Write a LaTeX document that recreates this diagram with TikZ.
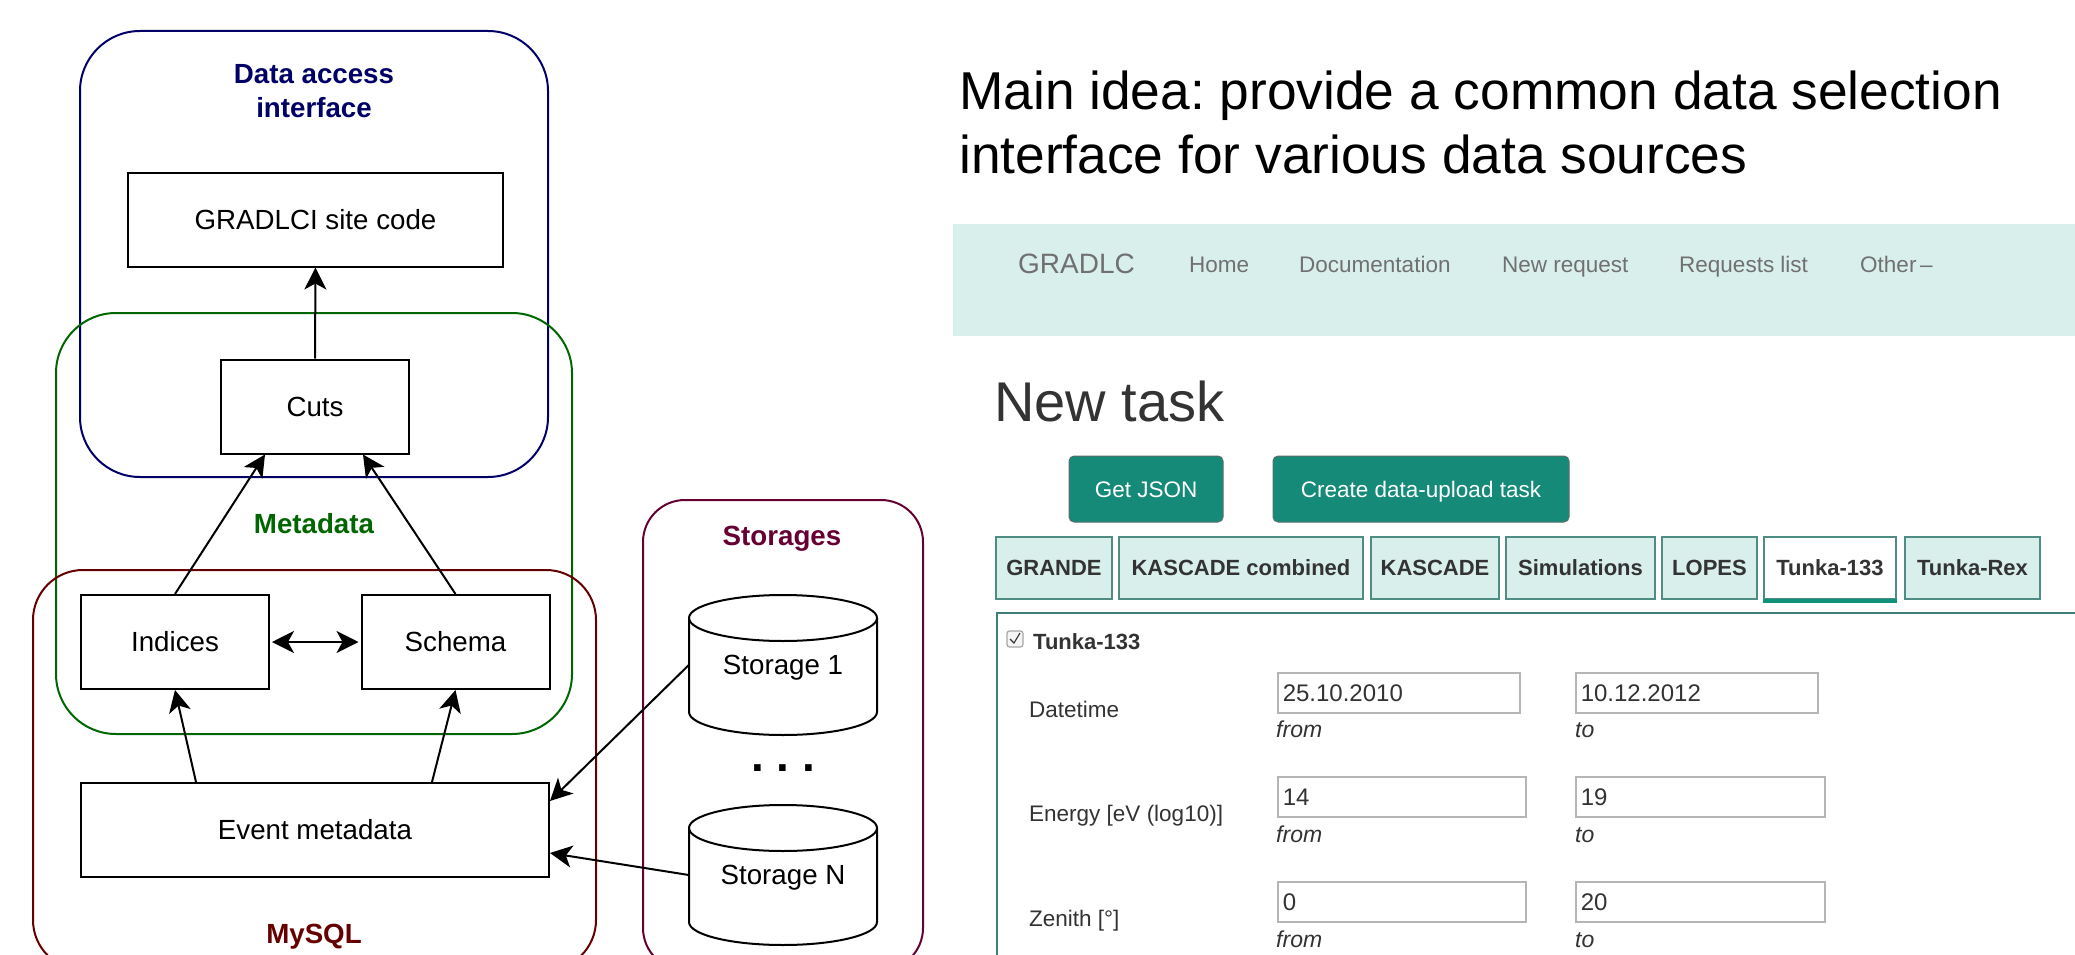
\documentclass[tikz,border=0pt]{standalone}
\usepackage{fontspec}
\setmainfont{Liberation Sans}
\usetikzlibrary{arrows.meta}
\frenchspacing
\definecolor{navyc}{HTML}{000066}
\definecolor{greenc}{HTML}{006600}
\definecolor{mysqlc}{HTML}{660000}
\definecolor{storc}{HTML}{660033}
\definecolor{tealbtn}{HTML}{168A78}
\definecolor{btnedge}{HTML}{5A6E6A}
\definecolor{navbg}{HTML}{D9EFEB}
\definecolor{tabborder}{HTML}{4F8C84}
\definecolor{tabline}{HTML}{119179}
\definecolor{panelc}{HTML}{3E7F77}
\definecolor{navtext}{HTML}{707070}
\definecolor{darktext}{HTML}{333333}
\definecolor{inputc}{HTML}{B5B5B5}
\newcommand{\FSbox}{\fontsize{27.7pt}{34.5pt}\selectfont}
\newcommand{\FSweb}{\fontsize{22.5pt}{27pt}\selectfont}
\tikzset{
  box/.style={draw, line width=2pt, fill=white, minimum width=188pt, minimum height=94pt,
    inner sep=0pt, font=\FSbox, text height=19.8pt, text depth=0pt},
  grp/.style={line width=2pt, rounded corners=#1, inner sep=0pt},
  grplabel/.style={font=\FSbox\bfseries, inner sep=0pt, anchor=base},
  arr/.style={line width=2pt, -{Stealth[length=22pt, width=22pt, inset=6pt]}},
  darr/.style={line width=2pt, {Stealth[length=22pt, width=22pt, inset=6pt]}-{Stealth[length=22pt, width=22pt, inset=6pt]}, shorten <=2pt, shorten >=2pt},
  cyl/.style={line width=2pt},
  navitem/.style={font=\FSweb, text=navtext, inner sep=0pt, anchor=base west},
  btn/.style={fill=tealbtn, draw=btnedge, line width=1pt, rounded corners=5pt, minimum height=66pt,
    text=white, font=\FSweb, inner sep=0pt, text height=16pt, text depth=0pt},
  tabbox/.style={draw=tabborder, fill=navbg, line width=1.5pt, minimum height=62pt, inner sep=0pt,
    font=\fontsize{22pt}{26pt}\selectfont\bfseries, text=darktext, text height=15.8pt, text depth=0pt},
  flabel/.style={font=\FSweb, text=darktext, inner sep=0pt, anchor=base west},
  inp/.style={draw=inputc, line width=1.5pt, fill=white, inner xsep=5pt, inner ysep=0pt,
    minimum height=40pt, align=left, anchor=north west, text height=17pt, text depth=0pt,
    font=\fontsize{24pt}{28pt}\selectfont, text=darktext},
  hint/.style={font=\fontsize{23pt}{27pt}\selectfont\itshape, text=darktext, inner sep=0pt, anchor=base west}
}
\begin{document}
\begin{tikzpicture}[x=1pt, y=-1pt]
\useasboundingbox (0,0) rectangle (2075,955);
\fill[white] (0,0) rectangle (2075,955);
\clip (0,0) rectangle (2075,955);

% ---------- group containers ----------
\node[grp=60pt, draw=navyc, minimum width=468pt, minimum height=446pt] (dai) at (314,254) {};
\node[grp=60pt, draw=greenc, minimum width=516pt, minimum height=421pt] (meta) at (314,523.5) {};
\node[grp=50pt, draw=mysqlc, minimum width=563pt, minimum height=400pt] (mysql) at (314.5,770) {};
\node[grp=42pt, draw=storc, minimum width=280pt, minimum height=470pt] (stor) at (783,735) {};

\node[grplabel, text=navyc, align=center, anchor=north] (daiT) at (314,64) {Data access\\interface};
\node[grplabel, text=greenc] (metaT) at (314,533) {Metadata};
\node[grplabel, text=mysqlc] (mysqlT) at (314,943) {MySQL};
\node[grplabel, text=storc] (storT) at (782,545) {Storages};

% ---------- boxes ----------
\node[box, minimum width=375pt] (grad) at (315.5,219.5) {GRADLCI site code};
\node[box] (cuts) at (315,406.5) {Cuts};
\node[box] (ind) at (175,642) {Indices};
\node[box] (sch) at (455.5,642) {Schema};
\node[box, minimum width=468pt] (ev) at (315,830) {Event metadata};

% ---------- storages (cylinders) ----------
\draw[cyl, fill=white] (689,618) -- (689,712) arc[start angle=180, end angle=0, x radius=94, y radius=23] -- (877,618);
\draw[cyl] (783,618) ellipse [x radius=94, y radius=23];
\draw[cyl, fill=white] (689,828) -- (689,922) arc[start angle=180, end angle=0, x radius=94, y radius=23] -- (877,828);
\draw[cyl] (783,828) ellipse [x radius=94, y radius=23];
\node[inner sep=0pt, minimum width=188pt, minimum height=140pt, font=\FSbox, text height=19.8pt, text depth=0pt] (s1) at (783,665) {Storage 1};
\node[inner sep=0pt, minimum width=188pt, minimum height=140pt, font=\FSbox, text height=19.8pt, text depth=0pt] (sN) at (783,875) {Storage N};
\node[font=\fontsize{46pt}{50pt}\selectfont\bfseries, inner sep=0pt, anchor=base] (dots) at (783,771.5) {. . .};

% ---------- connectors ----------
\draw[arr] (cuts.north) -- (grad.south);
\draw[arr] (ind.north) -- ([xshift=-50pt]cuts.south);
\draw[arr] (sch.north) -- ([xshift=48pt]cuts.south);
\draw[arr] ([xshift=-119pt]ev.north) -- (ind.south);
\draw[arr] ([xshift=117pt]ev.north) -- (sch.south);
\draw[darr] (ind.east) -- (sch.west);
\draw[arr] (s1.west) -- ([yshift=29pt]ev.east);
\draw[arr] (sN.west) -- ([yshift=-23pt]ev.east);

% ---------- right side: heading ----------
\node[inner sep=0pt, anchor=base west, font=\fontsize{53.3pt}{63pt}\selectfont] (idea1) at (959,110) {Main idea: provide a common data selection};
\node[inner sep=0pt, anchor=base west, font=\fontsize{53.3pt}{63pt}\selectfont] (idea2) at (959,173) {interface for various data sources};

% ---------- navbar ----------
\node[fill=navbg, minimum width=1122pt, minimum height=112pt, inner sep=0pt, anchor=north west] (nav) at (953,224) {};
\node[navitem, font=\fontsize{28pt}{32pt}\selectfont] (brand) at (1018,273) {GRADLC};
\node[navitem] (home) at (1189,272) {Home};
\node[navitem] (doc) at (1299,272) {Documentation};
\node[navitem] (newr) at (1502,272) {New request};
\node[navitem] (reql) at (1679,272) {Requests list};
\node[navitem] (other) at (1860,272) {Other\,–};

% ---------- new task ----------
\node[inner sep=0pt, anchor=base west, font=\fontsize{56pt}{64pt}\selectfont, text=darktext] (ntask) at (994,421) {New task};
\node[btn, minimum width=154pt] (b1) at (1146,489) {Get JSON};
\node[btn, minimum width=296pt] (b2) at (1421,489) {Create data-upload task};

% ---------- tabs ----------
\node[tabbox, minimum width=116pt] (t1) at (1054,568) {GRANDE};
\node[tabbox, minimum width=244pt] (t2) at (1241,568) {KASCADE combined};
\node[tabbox, minimum width=128pt] (t3) at (1435,568) {KASCADE};
\node[tabbox, minimum width=149pt] (t4) at (1580.5,568) {Simulations};
\node[tabbox, minimum width=95pt] (t5) at (1709.5,568) {LOPES};
\node[tabbox, fill=white, minimum width=132pt] (t6) at (1830,568) {Tunka-133};
\node[tabbox, minimum width=135pt] (t7) at (1972.5,568) {Tunka-Rex};
\fill[tabline] ([yshift=1pt]t6.south west) rectangle ([yshift=-3pt]t6.south east);

% ---------- panel ----------
\draw[panelc, line width=2pt] (997,1000) -- (997,613) -- (2100,613);
\node[draw=gray!70, fill=gray!8, rounded corners=2.5pt, minimum size=16pt, inner sep=0pt, line width=1.2pt] (cb) at (1015,639) {};
\draw[line width=1.1pt, darktext] ([xshift=-5pt, yshift=0pt]cb.center) -- ([xshift=-1pt, yshift=-4pt]cb.center) -- ([xshift=5pt, yshift=6pt]cb.center);
\node[inner sep=0pt, anchor=base west, font=\fontsize{22pt}{26pt}\selectfont\bfseries, text=darktext] (cbl) at (1033,649) {Tunka-133};

\node[flabel] (lDate) at (1029,717) {Datetime};
\node[flabel] (lEn) at (1029,821) {Energy [eV (log10)]};
\node[flabel] (lZen) at (1029,926) {Zenith [°]};

\node[inp, text width=232pt] (d1) at (1277,672) {25.10.2010};
\node[inp, text width=232pt] (d2) at (1575,672) {10.12.2012};
\node[inp, text width=238pt] (e1) at (1277,776) {14};
\node[inp, text width=239pt] (e2) at (1575,776) {19};
\node[inp, text width=238pt] (z1) at (1277,881) {0};
\node[inp, text width=239pt] (z2) at (1575,881) {20};

\node[hint] (h1) at (1276,737) {from};
\node[hint] (h2) at (1575,737) {to};
\node[hint] (h3) at (1276,842) {from};
\node[hint] (h4) at (1575,842) {to};
\node[hint] (h5) at (1276,947) {from};
\node[hint] (h6) at (1575,947) {to};
\end{tikzpicture}
\end{document}
